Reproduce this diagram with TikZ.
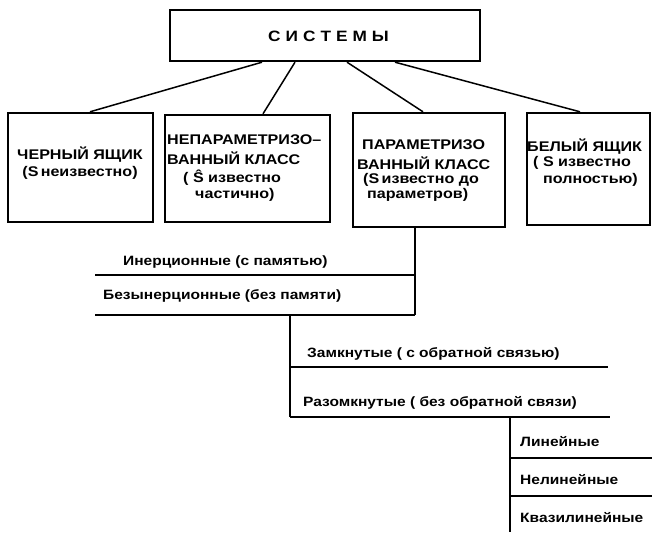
\documentclass[tikz,border=0pt]{standalone}
\usepackage{fontspec}
\setmainfont{Liberation Sans}
\newfontfamily\wide[FakeStretch=1.15]{Liberation Sans}
\usetikzlibrary{calc}
\begin{document}
\begin{tikzpicture}[x=1pt,y=-1pt,
  box/.style={draw, line width=2.4pt, rectangle, inner sep=0pt},
  conn/.style={line width=1.5pt},
  tree/.style={line width=1.7pt},
  btxt/.style={inner sep=0pt, font=\wide\bfseries\fontsize{14}{16}\selectfont},
  ltxt/.style={inner sep=0pt, anchor=west, font=\wide\bfseries\fontsize{13.5}{15}\selectfont}]
\useasboundingbox (0,0) rectangle (652,532);
% boxes
\node[box, minimum width=310pt, minimum height=51pt] (top) at (325,35.5) {};
\node[box, minimum width=145pt, minimum height=109pt] (b1) at (80.5,167.5) {};
\node[box, minimum width=165pt, minimum height=107pt] (b2) at (247.5,168.5) {};
\node[box, minimum width=152pt, minimum height=114pt] (b3) at (429,170) {};
\node[box, minimum width=123pt, minimum height=112pt] (b4) at (588.5,169) {};
% title
\node[btxt, font=\wide\bfseries\fontsize{15}{17}\selectfont] (ttl) at (328.5,36) {С\hspace{5pt}И\hspace{5pt}С\hspace{5pt}Т\hspace{5pt}Е\hspace{5pt}М\hspace{5pt}Ы};
% box texts
\node[btxt] (b1a) at (80,155) {ЧЕРНЫЙ ЯЩИК};
\node[btxt] (b1b) at (80,173) {(S\,неизвестно)};
\node[btxt, anchor=west] (b2a) at (167,140) {НЕПАРАМЕТРИЗО–};
\node[btxt, anchor=west] (b2b) at (167,158) {ВАННЫЙ КЛАСС};
\node[btxt, anchor=west] (b2c) at (183,178) {( Ŝ известно};
\node[btxt, anchor=west] (b2d) at (195,195) {частично)};
\node[btxt, anchor=west] (b3a) at (362,145) {ПАРАМЕТРИЗО};
\node[btxt, anchor=west] (b3b) at (357,163) {ВАННЫЙ КЛАСС};
\node[btxt, anchor=west] (b3c) at (363,180) {(S\,известно до};
\node[btxt, anchor=west] (b3d) at (367,195) {параметров)};
\node[btxt, anchor=west] (b4a) at (527,147) {БЕЛЫЙ ЯЩИК};
\node[btxt, anchor=west] (b4b) at (533,163) {( S известно};
\node[btxt, anchor=west] (b4c) at (543,180) {полностью)};
% connectors from top
\draw[conn] (262,0 |- top.south) -- (90,0 |- b1.north);
\draw[conn] (295,0 |- top.south) -- (263,0 |- b2.north);
\draw[conn] (347,0 |- top.south) -- (423,0 |- b3.north);
\draw[conn] (395,0 |- top.south) -- (580,0 |- b4.north);
% tree
\coordinate (inL) at (95,275);
\coordinate (inR) at (415,275);
\coordinate (bzL) at (95,315);
\coordinate (bzR) at (415,315);
\coordinate (v2t) at (290,315);
\coordinate (zmR) at (608,367);
\coordinate (zmL) at (290,367);
\coordinate (rzL) at (290,417);
\coordinate (rzR) at (610,417);
\coordinate (v3t) at (510,417);
\coordinate (v3b) at (510,532);
\coordinate (liL) at (510,458);
\coordinate (liR) at (652,458);
\coordinate (nlL) at (510,496);
\coordinate (nlR) at (652,496);
\draw[tree] (415,0 |- b3.south) -- (bzR);
\draw[tree] (inL) -- (inR);
\draw[tree] (bzL) -- (bzR);
\draw[tree] (v2t) -- (rzL);
\draw[tree] (zmL) -- (zmR);
\draw[tree] (rzL) -- (rzR);
\draw[tree] (v3t) -- (v3b);
\draw[tree] (liL) -- (liR);
\draw[tree] (nlL) -- (nlR);
\node[ltxt] (tin) at (123,262) {Инерционные (с памятью)};
\node[ltxt] (tbz) at (103,296) {Безынерционные (без памяти)};
\node[ltxt] (tzm) at (307,354) {Замкнутые ( с обратной связью)};
\node[ltxt] (trz) at (303,403) {Разомкнутые ( без обратной связи)};
\node[ltxt] (tli) at (520,442) {Линейные};
\node[ltxt] (tnl) at (520,480) {Нелинейные};
\node[ltxt] (tkv) at (520,518) {Квазилинейные};
\end{tikzpicture}
\end{document}
